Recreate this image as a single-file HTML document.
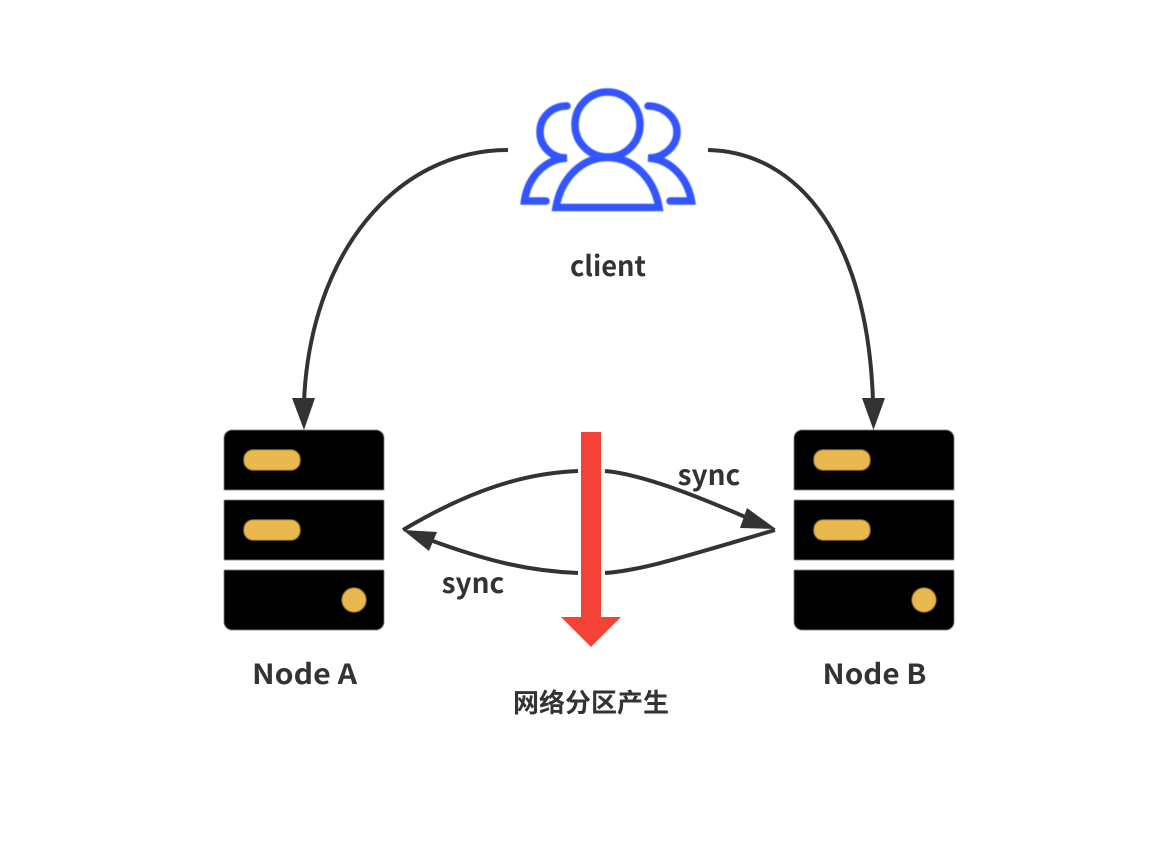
<!DOCTYPE html>
<html>
<head>
<meta charset="utf-8">
<style>
html,body{margin:0;padding:0;background:#fff;width:1168px;height:856px;overflow:hidden}
svg{display:block}
text{font-family:"Noto Sans CJK SC","Liberation Sans",sans-serif;font-weight:700;fill:#333;text-anchor:middle}
</style>
</head>
<body>
<svg width="1168" height="856" viewBox="0 0 1168 856" xmlns="http://www.w3.org/2000/svg">
<defs>
  <filter id="soft" x="-5%" y="-5%" width="110%" height="110%"><feGaussianBlur stdDeviation="0.5"/></filter>
</defs>
<rect width="1168" height="856" fill="#fff"/>

<!-- client icon -->
<g fill="none" stroke="#3355ff" stroke-width="7.5" stroke-linecap="round" stroke-linejoin="miter" filter="url(#soft)">
  <circle cx="607.500" cy="124.500" r="32.500"/>
  <path d="M556 207.500 C561 178 582 157.500 607.500 157.500 C633 157.500 654 178 659 207.500 Z"/>
  <path d="M567 106 C551 106 540 118 540 132 C540 146 551 158 567 158 C546 159 528 176 524.500 201 H546"/>
  <path d="M648 106 C664 106 677 118 677 132 C677 146 664 158 648 158 C669 159 687 176 691.500 201 H670"/>
</g>

<!-- servers -->
<g filter="url(#soft)">
  <path d="M224 490V438a8 8 0 0 1 8-8H376a8 8 0 0 1 8 8V490Z" fill="#000"/>
  <rect x="224" y="500" width="160" height="60" fill="#000"/>
  <path d="M224 570H384V622a8 8 0 0 1-8 8H232a8 8 0 0 1-8-8Z" fill="#000"/>
  <rect x="244" y="450" width="56" height="20" rx="9" fill="#e9b84f"/>
  <rect x="244" y="520" width="56" height="20" rx="9" fill="#e9b84f"/>
  <circle cx="354" cy="600" r="12" fill="#e9b84f"/>
</g>
<g transform="translate(570 0)" filter="url(#soft)">
  <path d="M224 490V438a8 8 0 0 1 8-8H376a8 8 0 0 1 8 8V490Z" fill="#000"/>
  <rect x="224" y="500" width="160" height="60" fill="#000"/>
  <path d="M224 570H384V622a8 8 0 0 1-8 8H232a8 8 0 0 1-8-8Z" fill="#000"/>
  <rect x="244" y="450" width="56" height="20" rx="9" fill="#e9b84f"/>
  <rect x="244" y="520" width="56" height="20" rx="9" fill="#e9b84f"/>
  <circle cx="354" cy="600" r="12" fill="#e9b84f"/>
</g>

<!-- connectors -->
<g fill="none" stroke="#333" stroke-width="4">
  <path d="M508 150 C395 150 310 255 304 402"/>
  <path d="M708 150 C800 152 868 240 873 402"/>
  <path d="M578 471 C525 473 470 490 403 530"/>
  <path d="M605 471 C640 474 690 493 750 519"/>
  <path d="M578 573 C530 571 490 562 430 540"/>
  <path d="M605 573 C640 571 690 555 775 530"/>
</g>
<g fill="#333">
  <polygon points="292,398 315,398 304,430"/>
  <polygon points="862,398 885,398 873.500,430"/>
  <polygon points="776,529 740,528 747,508"/>
  <polygon points="403,530 437,532 429,551"/>
</g>

<!-- red arrow -->
<rect x="581" y="432" width="20" height="186" fill="#f44336"/>
<polygon points="561,617 621,617 591,647" fill="#f44336"/>

<!-- labels -->
<text x="608" y="276" font-size="28" textLength="76" lengthAdjust="spacingAndGlyphs">client</text>
<text x="304.500" y="684" font-size="28" textLength="105" lengthAdjust="spacingAndGlyphs">Node A</text>
<text x="874.500" y="684" font-size="28" textLength="104" lengthAdjust="spacingAndGlyphs">Node B</text>
<text x="709" y="485" font-size="28">sync</text>
<text x="473" y="593" font-size="28">sync</text>
<text x="591" y="712" font-size="26">网络分区产生</text>
</svg>
</body>
</html>
